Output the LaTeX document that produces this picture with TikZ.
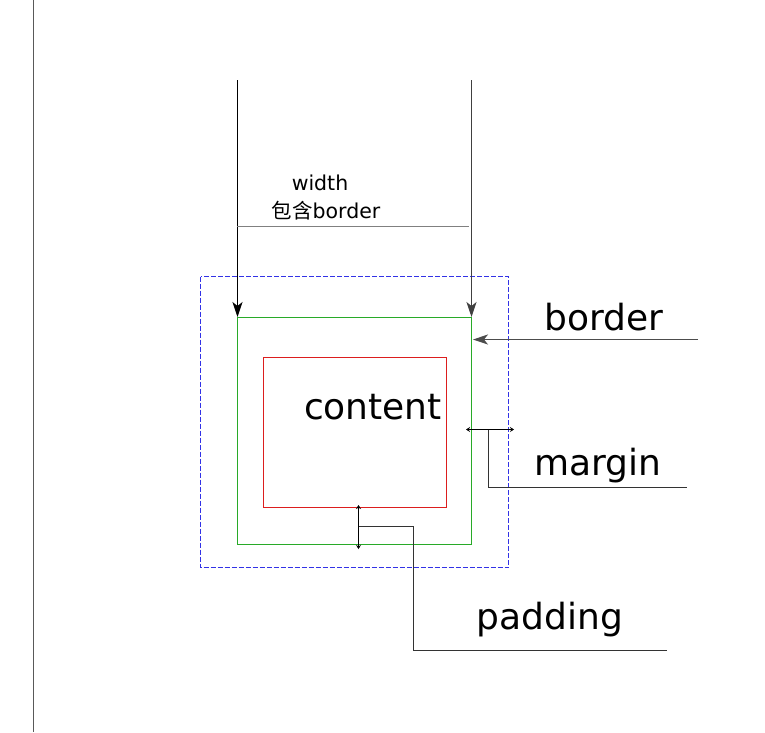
\documentclass[tikz,border=0pt]{standalone}
\usepackage{fontspec}
\setmainfont{DejaVu Sans}
\newfontfamily\cjk{Noto Sans CJK SC}
\usetikzlibrary{arrows.meta}
\definecolor{boxgreen}{RGB}{40,170,40}
\definecolor{boxred}{RGB}{220,30,30}
\definecolor{boxblue}{RGB}{50,50,230}
\begin{document}
\begin{tikzpicture}[x=1pt,y=-1pt,
  bigtxt/.style={font=\fontsize{36}{40}\selectfont, inner sep=0pt},
  smalltxt/.style={font=\fontsize{20.5}{26}\selectfont, inner sep=0pt, align=center},
  bigarrow/.style={-{Stealth[length=15pt,width=10pt,inset=4pt]}, line width=1.2pt},
  tinyarrows/.style={{Stealth[length=4pt,width=5pt]}-{Stealth[length=4pt,width=5pt]}, line width=1.1pt},
  leader/.style={line width=1.1pt},
  gbox/.style={draw=boxgreen, line width=1.5pt},
  rbox/.style={draw=boxred, line width=1.3pt},
  bbox/.style={draw=boxblue, dash pattern=on 5pt off 2pt, line width=1.1pt}]
\useasboundingbox (0,0) rectangle (765,732);
% left page line
\coordinate (lt) at (33.5,0);
\coordinate (lb) at (33.5,732);
\draw[gray!70!black, line width=1.3pt] (lt) -- (lb);
% boxes
\draw[bbox] (200.5,276.5) rectangle (508.5,567.5);
\draw[gbox] (237.5,317.5) rectangle (471.5,544.5);
\draw[rbox] (263.5,357.5) rectangle (446.5,507.5);
\node[bigtxt] (content) at (373,407) {content};
% width arrows
\coordinate (wl0) at (237.5,80);
\coordinate (wl1) at (237.5,317);
\coordinate (wr0) at (471.5,80);
\coordinate (wr1) at (471.5,317);
\draw[bigarrow] (wl0) -- (wl1);
\draw[bigarrow, black!75] (wr0) -- (wr1);
\coordinate (wm0) at (237,226.5);
\coordinate (wm1) at (469,226.5);
\draw[gray, line width=1.4pt] (wm0) -- (wm1);
\node[smalltxt] (wtxt) at (320,183) {width};
\node[smalltxt] (btxt) at (326,211) {{\cjk 包含}border};
% border label
\coordinate (ba0) at (698,339.5);
\coordinate (ba1) at (473,339.5);
\draw[bigarrow, black!70] (ba0) -- (ba1);
\node[bigtxt] (border) at (604,317) {border};
% margin
\coordinate (m0) at (466,429.5);
\coordinate (m1) at (514,429.5);
\draw[tinyarrows] (m0) -- (m1);
\coordinate (mk) at (488.5,429.5);
\coordinate (me) at (687,487.5);
\draw[leader, black!80] (mk) |- (me);
\node[bigtxt] (margin) at (598,466) {margin};
% padding
\coordinate (p0) at (358.5,505);
\coordinate (p1) at (358.5,549);
\draw[tinyarrows] (p0) -- (p1);
\coordinate (pk) at (358.5,526.5);
\coordinate (pc) at (413.5,526.5);
\coordinate (pe) at (667,650.5);
\draw[leader, black!80] (pk) -- (pc) |- (pe);
\node[bigtxt] (padding) at (550,620) {padding};
\end{tikzpicture}
\end{document}
